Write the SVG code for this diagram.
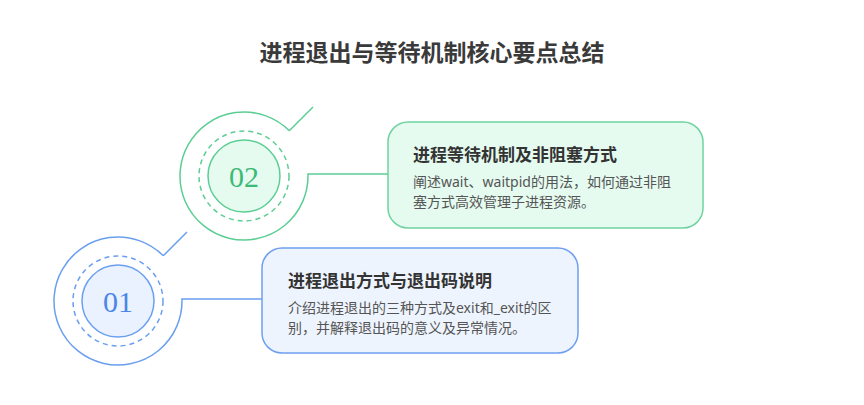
<svg xmlns="http://www.w3.org/2000/svg" width="864" height="405" viewBox="0 0 864 405">
<style>
.title{font-family:"Noto Sans CJK SC","Noto Sans",sans-serif;font-weight:bold;font-size:23px;fill:#3a3a3a}
.h{font-family:"Noto Sans CJK SC","Noto Sans",sans-serif;font-weight:bold;font-size:17px;fill:#333}
.d{font-family:"Noto Sans","Noto Sans CJK SC",sans-serif;font-size:14px;fill:#555}
.num{font-family:"Liberation Serif",serif;font-size:30px;text-anchor:middle}
.g{stroke:#5cce94;fill:none;stroke-width:1.5}
.b{stroke:#6a9ff0;fill:none;stroke-width:1.5}
.dash{stroke-dasharray:5 4}
</style>
<rect width="864" height="405" fill="#fff"/>
<text class="title" x="432" y="61" text-anchor="middle">进程退出与等待机制核心要点总结</text>
<g id="connectors">
<path class="g" d="M289.25 130.75 A64 64 0 1 0 307.97 174 L388 174 M289.25 130.75 L313 107"/>
<path class="b" d="M163.25 255.75 A64 64 0 1 0 181.97 299 L262 299 M163.25 255.75 L187 232"/>
</g>
<g id="node02">
<circle class="g dash" cx="244" cy="176" r="45"/>
<circle cx="244" cy="176" r="36" fill="#e6fbef" stroke="#5cce94" stroke-width="1.5"/>
<text class="num" x="244" y="187" fill="#3dba78">02</text>
</g>
<g id="node01">
<circle class="b dash" cx="118" cy="301" r="45"/>
<circle cx="118" cy="301" r="36" fill="#eaf2ff" stroke="#6a9ff0" stroke-width="1.5"/>
<text class="num" x="118" y="312" fill="#4a86e8">01</text>
</g>
<g id="box02">
<rect x="388" y="122" width="315" height="106" rx="20" fill="#e5fbf0" stroke="#6fd3a0" stroke-width="1.5"/>
<text class="h" x="413" y="161">进程等待机制及非阻塞方式</text>
<text class="d" x="413" y="187">阐述wait、waitpid的用法，如何通过非阻</text>
<text class="d" x="413" y="207">塞方式高效管理子进程资源。</text>
</g>
<g id="box01">
<rect x="262" y="248" width="316" height="105" rx="20" fill="#eef4fe" stroke="#6e9ff0" stroke-width="1.5"/>
<text class="h" x="288" y="287">进程退出方式与退出码说明</text>
<text class="d" x="288" y="313">介绍进程退出的三种方式及exit和_exit的区</text>
<text class="d" x="288" y="333">别，并解释退出码的意义及异常情况。</text>
</g>
</svg>
